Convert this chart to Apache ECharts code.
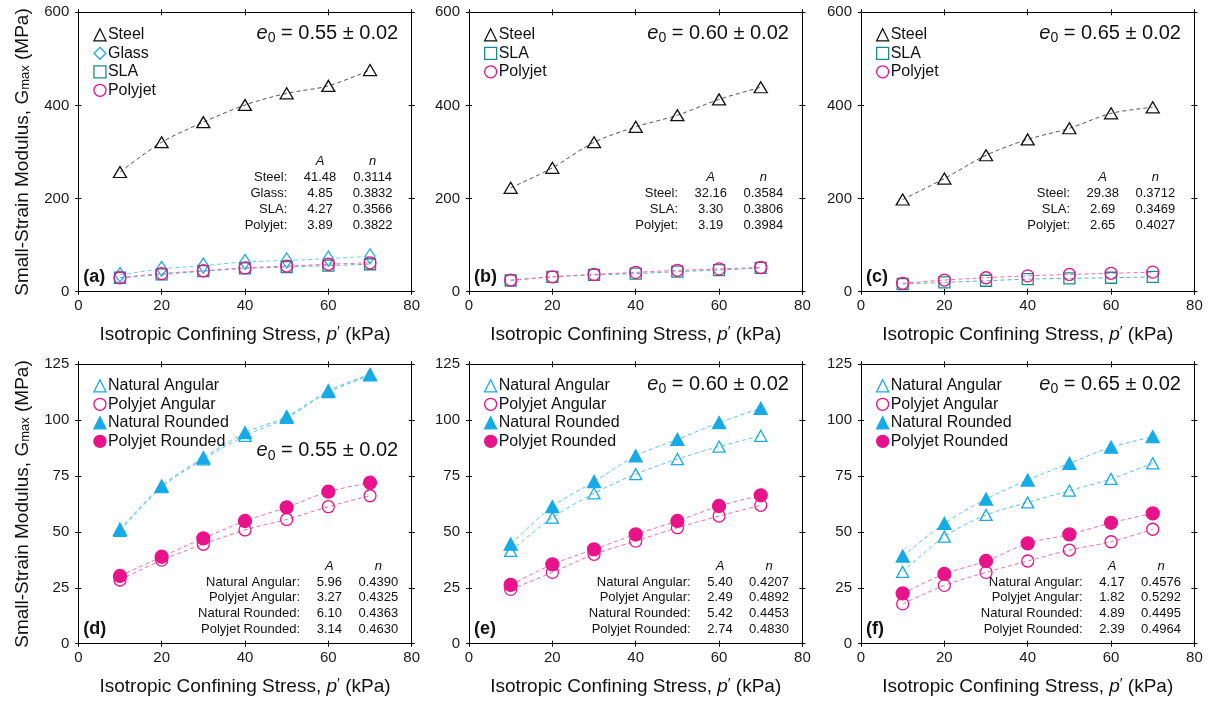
<!DOCTYPE html>
<html>
<head>
<meta charset="utf-8">
<title>Small-strain modulus vs confining stress</title>
<script src="https://cdn.jsdelivr.net/npm/echarts@6/dist/echarts.min.js"></script>
<style>
  html, body { margin: 0; padding: 0; background: #fff; }
  #chart { width: 1208px; height: 702px; }
</style>
</head>
<body>
<div id="chart"></div>
<script>
// Confining stress levels (kPa)
const pStress = [10, 20, 30, 40, 50, 60, 70];

// Gmax (MPa), synthetic-grain tests, three void ratios
const steel055   = [257, 321, 364, 401, 426, 442, 476];
const glass055   = [36, 49, 56, 64, 67, 71, 76];
const sla055     = [30, 37, 44, 50, 53, 56, 59];
const polyjet055 = [30, 39, 45, 51, 55, 59, 62];

const steel060   = [223, 266, 321, 354, 379, 413, 439];
const sla060     = [24, 32, 36, 39, 43, 46.5, 51];
const polyjet060 = [25, 32, 37, 41.5, 46, 49, 52];

const steel065   = [198, 243, 293, 327, 351, 383, 396];
const sla065     = [16.5, 20, 23.5, 27, 28.5, 30, 32];
const polyjet065 = [18, 25, 30, 34, 37, 39.5, 42];

// Gmax (MPa), natural vs printed sands, angular and rounded
const natAng055  = [50.5, 70, 82.5, 93, 101, 112.5, 120];
const polyAng055 = [28.5, 37.4, 44.5, 50.9, 55.6, 61.3, 66.2];
const natRnd055  = [51.2, 70.6, 83.2, 94.4, 101.6, 113.2, 120.5];
const polyRnd055 = [30.3, 38.9, 47.1, 54.9, 61, 68, 72];

const natAng060  = [41.5, 56.4, 67.3, 75.9, 82.6, 88.2, 93];
const polyAng060 = [24.3, 31.9, 40, 45.9, 51.9, 57.1, 61.9];
const natRnd060  = [44.6, 61.3, 72.5, 84, 91.4, 98.9, 105.3];
const polyRnd060 = [26.3, 35.5, 42.2, 48.9, 54.9, 61.6, 66.4];

const natAng065  = [32.1, 47.9, 57.6, 63.2, 68.5, 73.7, 80.7];
const polyAng065 = [17.8, 26.1, 31.9, 37, 41.9, 45.6, 51.2];
const natRnd065  = [39.2, 53.8, 64.7, 73.2, 80.7, 87.9, 92.6];
const polyRnd065 = [22.5, 31.2, 37, 44.9, 48.9, 54.1, 58.3];

// Fitted power-law parameters shown in each panel: [label, A, n]
const fitA = [['Steel:', '41.48', '0.3114'], ['Glass:', '4.85', '0.3832'], ['SLA:', '4.27', '0.3566'], ['Polyjet:', '3.89', '0.3822']];
const fitB = [['Steel:', '32.16', '0.3584'], ['SLA:', '3.30', '0.3806'], ['Polyjet:', '3.19', '0.3984']];
const fitC = [['Steel:', '29.38', '0.3712'], ['SLA:', '2.69', '0.3469'], ['Polyjet:', '2.65', '0.4027']];
const fitD = [['Natural Angular:', '5.96', '0.4390'], ['Polyjet Angular:', '3.27', '0.4325'], ['Natural Rounded:', '6.10', '0.4363'], ['Polyjet Rounded:', '3.14', '0.4630']];
const fitE = [['Natural Angular:', '5.40', '0.4207'], ['Polyjet Angular:', '2.49', '0.4892'], ['Natural Rounded:', '5.42', '0.4453'], ['Polyjet Rounded:', '2.74', '0.4830']];
const fitF = [['Natural Angular:', '4.17', '0.4576'], ['Polyjet Angular:', '1.82', '0.5292'], ['Natural Rounded:', '4.89', '0.4495'], ['Polyjet Rounded:', '2.39', '0.4964']];

const voidRatios = ['0.55', '0.60', '0.65'];
const panelTags = ['(a)', '(b)', '(c)', '(d)', '(e)', '(f)'];
const xTicks = { min: 0, max: 80, interval: 20 };
const yTicksTop = { min: 0, max: 600, interval: 200 };
const yTicksBottom = { min: 0, max: 125, interval: 25 };

// ---- appearance ----
const FONT = '"Liberation Sans", Arial, Helvetica, sans-serif';
const CLEAR = 'rgba(0,0,0,0)';
const looks = {
  steel:   { symbol: 'triangle', size: [13, 11], fill: CLEAR,     stroke: '#111111', line: '#555555' },
  glass:   { symbol: 'diamond',  size: [10, 15], fill: CLEAR,     stroke: '#1ea8e2', line: '#6fcbef' },
  sla:     { symbol: 'rect',     size: [11, 11], fill: CLEAR,     stroke: '#1b8b8b', line: '#5db5b5' },
  polyjet: { symbol: 'circle',   size: [12, 12], fill: CLEAR,     stroke: '#e8138a', line: '#ef6db1' },
  natAng:  { symbol: 'triangle', size: [12, 11], fill: CLEAR,     stroke: '#16abe6', line: '#5cc4ee' },
  polyAng: { symbol: 'circle',   size: [12, 12], fill: CLEAR,     stroke: '#e8138a', line: '#ef6db1' },
  natRnd:  { symbol: 'triangle', size: [13, 12], fill: '#16abe6', stroke: '#16abe6', line: '#5cc4ee' },
  polyRnd: { symbol: 'circle',   size: [13, 13], fill: '#e8138a', stroke: '#e8138a', line: '#ef6db1' }
};

const panels = [
  { sets: [['Steel', steel055, 'steel'], ['Glass', glass055, 'glass'], ['SLA', sla055, 'sla'], ['Polyjet', polyjet055, 'polyjet']], fit: fitA, e: 0 },
  { sets: [['Steel', steel060, 'steel'], ['SLA', sla060, 'sla'], ['Polyjet', polyjet060, 'polyjet']], fit: fitB, e: 1 },
  { sets: [['Steel', steel065, 'steel'], ['SLA', sla065, 'sla'], ['Polyjet', polyjet065, 'polyjet']], fit: fitC, e: 2 },
  { sets: [['Natural Angular', natAng055, 'natAng'], ['Polyjet Angular', polyAng055, 'polyAng'], ['Natural Rounded', natRnd055, 'natRnd'], ['Polyjet Rounded', polyRnd055, 'polyRnd']], fit: fitD, e: 0 },
  { sets: [['Natural Angular', natAng060, 'natAng'], ['Polyjet Angular', polyAng060, 'polyAng'], ['Natural Rounded', natRnd060, 'natRnd'], ['Polyjet Rounded', polyRnd060, 'polyRnd']], fit: fitE, e: 1 },
  { sets: [['Natural Angular', natAng065, 'natAng'], ['Polyjet Angular', polyAng065, 'polyAng'], ['Natural Rounded', natRnd065, 'natRnd'], ['Polyjet Rounded', polyRnd065, 'polyRnd']], fit: fitF, e: 2 }
];

// ---- layout (px) ----
const colLeft = [78.3, 469, 861];
const plotW = 333.4;
const rowTop = [12.3, 364.3];
const plotH = 279.4;

const grids = [], xAxes = [], yAxes = [], series = [], legends = [], graphics = [];

const tickLine = { color: '#000', width: 1 };

// four axes per dimension: outer/inner ticks on both sides so ticks cross the frame
function addAxes(dim, gi, ticks, extra) {
  const list = dim === 'x' ? xAxes : yAxes;
  const sides = dim === 'x' ? ['bottom', 'top'] : ['left', 'right'];
  const first = list.length;
  sides.forEach((pos, s) => {
    [false, true].forEach(inside => {
      const main = s === 0 && !inside;
      const ax = {
        type: 'value', gridIndex: gi, position: pos,
        min: ticks.min, max: ticks.max, interval: ticks.interval,
        axisLine: { show: !inside, onZero: false, lineStyle: tickLine },
        axisTick: { show: true, inside: inside, length: 3, lineStyle: tickLine },
        axisLabel: { show: main, fontFamily: FONT, fontSize: 15, color: '#1a1a1a', margin: dim === 'x' ? 7 : 9 },
        splitLine: { show: false },
        silent: true
      };
      if (main && extra) Object.assign(ax, extra);
      list.push(ax);
    });
  });
  return first;
}

panels.forEach((pn, gi) => {
  const row = gi < 3 ? 0 : 1;
  const col = gi % 3;
  const left = colLeft[col];
  const top = rowTop[row];
  grids.push({ left: left, top: top, width: plotW, height: plotH });

  const xi = addAxes('x', gi, xTicks, {
    name: 'Isotropic Confining Stress, {it|p}{pr|′} (kPa)',
    nameLocation: 'middle', nameGap: 33,
    nameTextStyle: {
      fontFamily: FONT, fontSize: 19, color: '#111',
      rich: {
        it: { fontFamily: FONT, fontSize: 19, fontStyle: 'italic', color: '#111' },
        pr: { fontFamily: FONT, fontSize: 15, color: '#111', padding: [0, 0, 6, 0] }
      }
    }
  });
  const yExtra = col === 0 ? {
    name: 'Small-Strain Modulus, G{sub|max} (MPa)',
    nameLocation: 'middle', nameGap: 46,
    nameTextStyle: {
      fontFamily: FONT, fontSize: 19, color: '#111',
      rich: {
        sub: { fontFamily: FONT, fontSize: 13, color: '#111', padding: [7, 0, 0, 0] }
      }
    }
  } : null;
  const yi = addAxes('y', gi, row === 0 ? yTicksTop : yTicksBottom, yExtra);

  pn.sets.forEach(([name, vals, key]) => {
    const lk = looks[key];
    series.push({
      type: 'line', name: name,
      xAxisIndex: xi, yAxisIndex: yi,
      data: pStress.map((p, i) => [p, vals[i]]),
      smooth: 0.3,
      symbol: lk.symbol, symbolSize: lk.size,
      showAllSymbol: true,
      itemStyle: { color: lk.fill, borderColor: lk.stroke, borderWidth: 1.3 },
      lineStyle: { color: lk.line, width: 1, type: [4, 3] },
      emphasis: { disabled: true },
      silent: true,
      z: 3
    });
  });

  legends.push({
    orient: 'vertical',
    left: left + 10, top: top + (row === 0 ? 9.5 : 8.5),
    itemWidth: 12, itemHeight: 12, itemGap: 2.5,
    selectedMode: false,
    textStyle: { fontFamily: FONT, fontSize: 16, color: '#111', padding: [0, 0, 0, -3] },
    data: pn.sets.map(([name, , key]) => {
      const lk = looks[key];
      return { name: name, icon: lk.symbol, itemStyle: { color: lk.fill, borderColor: lk.stroke, borderWidth: 1.3 } };
    })
  });

  // void-ratio annotation
  const eY = row === 0 ? top + 22 : (gi === 3 ? top + 87.5 : top + 21);
  graphics.push({
    type: 'text', silent: true,
    style: {
      x: left + plotW - 13.5, y: eY, align: 'right', verticalAlign: 'middle',
      text: '{it|e}{sub|0}{m| = ' + voidRatios[pn.e] + ' ± 0.02}',
      rich: {
        it: { fontFamily: FONT, fontSize: 20, fontStyle: 'italic', fill: '#111', padding: [0, 0, 2, 0], verticalAlign: 'bottom' },
        sub: { fontFamily: FONT, fontSize: 14, fill: '#111', verticalAlign: 'bottom' },
        m: { fontFamily: FONT, fontSize: 20, fill: '#111', padding: [0, 0, 2, 0], verticalAlign: 'bottom' }
      }
    }
  });

  // fit-parameter table
  const labRight = left + (row === 0 ? 209 : 221.7);
  const aCtr = left + (row === 0 ? 241.7 : 251);
  const nCtr = left + (row === 0 ? 294.4 : 300);
  const lastY = top + (row === 0 ? 213.2 : 265);
  const step = row === 0 ? 16 : 15.7;
  const nRows = pn.fit.length;
  const txt = (x, y, s, align, italic) => graphics.push({
    type: 'text', silent: true,
    style: { x: x, y: y, text: s, align: align, verticalAlign: 'middle', fill: '#111',
             fontFamily: FONT, fontSize: 13, fontStyle: italic ? 'italic' : 'normal' }
  });
  const headY = lastY - step * nRows;
  txt(aCtr, headY, 'A', 'center', true);
  txt(nCtr, headY, 'n', 'center', true);
  pn.fit.forEach((r, k) => {
    const y = headY + step * (k + 1);
    txt(labRight, y, r[0], 'right');
    txt(aCtr, y, r[1], 'center');
    txt(nCtr, y, r[2], 'center');
  });

  // panel tag
  graphics.push({
    type: 'text', silent: true,
    style: { x: left + 5, y: top + 264.3, text: panelTags[gi], align: 'left', verticalAlign: 'middle',
             fill: '#111', fontFamily: FONT, fontSize: 18, fontWeight: 'bold' }
  });
});

const chart = echarts.init(document.getElementById('chart'), null, { renderer: 'canvas' });
chart.setOption({
  backgroundColor: '#ffffff',
  animation: false,
  grid: grids,
  xAxis: xAxes,
  yAxis: yAxes,
  legend: legends,
  series: series,
  graphic: graphics
});
</script>
</body>
</html>
